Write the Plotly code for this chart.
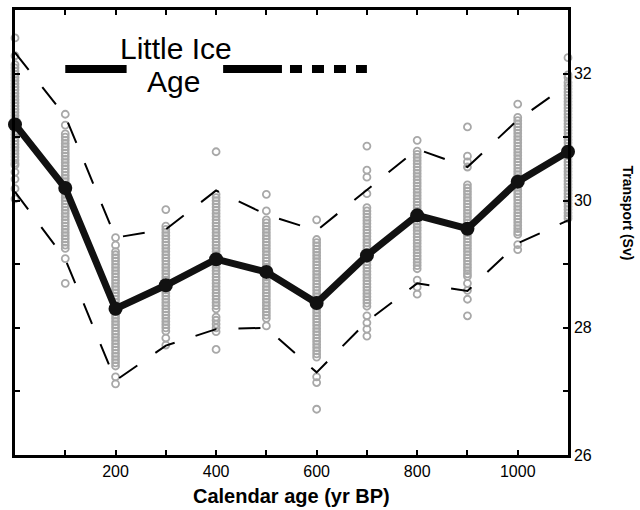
import plotly.graph_objects as go

ages = [0, 100, 200, 300, 400, 500, 600, 700, 800, 900, 1000, 1100]

col_000 = [32.56, 32.28, 32.14, 32.09, 32.04, 31.99, 31.94, 31.89, 31.84, 31.79, 31.74, 31.69, 31.64, 31.59,
           31.54, 31.49, 31.44, 31.39, 31.34, 31.29, 31.24, 31.19, 31.14, 31.09, 31.04, 30.99, 30.94, 30.89,
           30.84, 30.79, 30.74, 30.69, 30.64, 30.59, 30.56, 30.45, 30.34, 30.19, 30.03]
col_100 = [31.36, 31.19, 31.05, 31.0, 30.95, 30.9, 30.85, 30.8, 30.75, 30.7, 30.65, 30.6, 30.55, 30.5,
           30.45, 30.4, 30.35, 30.3, 30.25, 30.2, 30.15, 30.1, 30.05, 30.0, 29.95, 29.9, 29.85, 29.8,
           29.75, 29.7, 29.65, 29.6, 29.55, 29.5, 29.45, 29.4, 29.35, 29.3, 29.25, 29.09, 28.70]
col_200 = [29.42, 29.30, 29.2, 29.15, 29.1, 29.05, 29.0, 28.95, 28.9, 28.85, 28.8, 28.75, 28.7, 28.65,
           28.6, 28.55, 28.5, 28.45, 28.4, 28.35, 28.3, 28.25, 28.2, 28.15, 28.1, 28.05, 28.0, 27.95,
           27.9, 27.85, 27.8, 27.75, 27.7, 27.65, 27.6, 27.55, 27.5, 27.45, 27.4, 27.23, 27.12]
col_300 = [29.86, 29.6, 29.55, 29.5, 29.45, 29.4, 29.35, 29.3, 29.25, 29.2, 29.15, 29.1, 29.05, 29.0,
           28.95, 28.9, 28.85, 28.8, 28.75, 28.7, 28.65, 28.6, 28.55, 28.5, 28.45, 28.4, 28.35, 28.3,
           28.25, 28.2, 28.15, 28.1, 28.05, 28.0, 27.95, 27.84, 27.73]
col_400 = [30.77, 30.1, 30.05, 30.0, 29.95, 29.9, 29.85, 29.8, 29.75, 29.7, 29.65, 29.6, 29.55, 29.5,
           29.45, 29.4, 29.35, 29.3, 29.25, 29.2, 29.15, 29.1, 29.05, 29.0, 28.95, 28.9, 28.85, 28.8,
           28.75, 28.7, 28.65, 28.6, 28.55, 28.5, 28.45, 28.4, 28.35, 28.3, 28.17, 28.12, 28.06, 28.0,
           27.94, 27.66]
col_500 = [30.1, 29.84, 29.7, 29.65, 29.6, 29.55, 29.5, 29.45, 29.4, 29.35, 29.3, 29.25, 29.2, 29.15,
           29.1, 29.05, 29.0, 28.95, 28.9, 28.85, 28.8, 28.75, 28.7, 28.65, 28.6, 28.55, 28.5, 28.45,
           28.4, 28.35, 28.3, 28.25, 28.2, 28.15, 28.03]
col_600 = [29.7, 29.39, 29.34, 29.29, 29.24, 29.19, 29.14, 29.09, 29.04, 28.99, 28.94, 28.89, 28.84, 28.79,
           28.74, 28.69, 28.64, 28.59, 28.54, 28.49, 28.44, 28.39, 28.34, 28.29, 28.24, 28.19, 28.14, 28.09,
           28.04, 27.99, 27.94, 27.89, 27.84, 27.79, 27.74, 27.69, 27.64, 27.59, 27.54, 27.23, 27.14, 26.72]
col_700 = [30.86, 30.48, 30.37, 30.11, 29.89, 29.84, 29.79, 29.74, 29.69, 29.64, 29.59, 29.54, 29.49, 29.44,
           29.39, 29.34, 29.29, 29.24, 29.19, 29.14, 29.09, 29.04, 28.99, 28.94, 28.89, 28.84, 28.79, 28.74,
           28.69, 28.64, 28.59, 28.54, 28.49, 28.44, 28.39, 28.34, 28.19, 28.08, 27.98, 27.87]
col_800 = [30.95, 30.78, 30.73, 30.68, 30.63, 30.58, 30.53, 30.48, 30.43, 30.38, 30.33, 30.28, 30.23, 30.18,
           30.13, 30.08, 30.03, 29.98, 29.93, 29.88, 29.83, 29.78, 29.73, 29.68, 29.63, 29.58, 29.53, 29.48,
           29.43, 29.38, 29.33, 29.28, 29.23, 29.18, 29.13, 29.08, 29.03, 28.98, 28.93, 28.75, 28.64, 28.53]
col_900 = [31.16, 30.70, 30.61, 30.53, 30.25, 30.2, 30.15, 30.1, 30.05, 30.0, 29.95, 29.9, 29.85, 29.8,
           29.75, 29.7, 29.65, 29.6, 29.55, 29.5, 29.45, 29.4, 29.35, 29.3, 29.25, 29.2, 29.15, 29.1,
           29.05, 29.0, 28.95, 28.9, 28.85, 28.81, 28.7, 28.59, 28.45, 28.19]
col_1000 = [31.52, 31.31, 31.26, 31.21, 31.16, 31.11, 31.06, 31.01, 30.96, 30.91, 30.86, 30.81, 30.76, 30.71,
            30.66, 30.61, 30.56, 30.51, 30.46, 30.41, 30.36, 30.31, 30.26, 30.21, 30.16, 30.11, 30.06, 30.01,
            29.96, 29.91, 29.86, 29.81, 29.76, 29.71, 29.66, 29.61, 29.56, 29.51, 29.47, 29.31, 29.23]
col_1100 = [32.25, 31.98, 31.94, 31.86, 31.81, 31.76, 31.71, 31.66, 31.61, 31.56, 31.51, 31.46, 31.41, 31.36,
            31.31, 31.26, 31.21, 31.16, 31.11, 31.06, 31.01, 30.96, 30.91, 30.86, 30.81, 30.76, 30.71, 30.66,
            30.61, 30.56, 30.51, 30.46, 30.41, 30.36, 30.31, 30.26, 30.21, 30.16, 30.11, 30.06, 30.01, 29.96,
            29.91, 29.86, 29.81, 29.76, 29.72]

ensemble = [col_000, col_100, col_200, col_300, col_400, col_500,
            col_600, col_700, col_800, col_900, col_1000, col_1100]

mean_transport = [31.2, 30.2, 28.3, 28.67, 29.08, 28.88, 28.39, 29.14, 29.77, 29.56, 30.3, 30.77]
upper_bound = [32.33, 31.33, 29.42, 29.55, 30.16, 29.78, 29.53, 30.17, 30.81, 30.53, 31.27, 31.83]
lower_bound = [30.14, 29.08, 27.17, 27.72, 27.98, 28.0, 27.3, 28.1, 28.7, 28.58, 29.33, 29.69]

x_tick_vals = [100, 200, 300, 400, 500, 600, 700, 800, 900, 1000]
x_tick_text = ["", "200", "", "400", "", "600", "", "800", "", "1000"]
y_tick_vals = [26, 27, 28, 29, 30, 31, 32]
y_tick_text = ["26", "", "28", "", "30", "", "32"]

FONT = "Liberation Sans, Arial, sans-serif"

fig = go.Figure()

xs, ys = [], []
for a, col in zip(ages, ensemble):
    xs += [a] * len(col)
    ys += col
fig.add_trace(go.Scatter(
    x=xs, y=ys, mode="markers", cliponaxis=False,
    marker=dict(symbol="circle-open", size=7, color="#a8a8a8", line=dict(width=1.8, color="#a8a8a8")),
    showlegend=False, hoverinfo="skip"))

for band in (upper_bound, lower_bound):
    fig.add_trace(go.Scatter(
        x=ages, y=band, mode="lines", cliponaxis=False,
        line=dict(color="black", width=2, dash="22px,22px"),
        showlegend=False, hoverinfo="skip"))

fig.add_trace(go.Scatter(
    x=ages, y=mean_transport, mode="lines+markers", cliponaxis=False,
    line=dict(color="#111111", width=7),
    marker=dict(size=14, color="#111111"),
    showlegend=False))

# Little Ice Age bar
lia_y = 32.07
fig.add_shape(type="line", xref="x", yref="y", x0=100, x1=222, y0=lia_y, y1=lia_y,
              line=dict(color="black", width=8))
fig.add_shape(type="line", xref="x", yref="y", x0=414, x1=531, y0=lia_y, y1=lia_y,
              line=dict(color="black", width=8))
fig.add_shape(type="line", xref="x", yref="y", x0=547, x1=700, y0=lia_y, y1=lia_y,
              line=dict(color="black", width=8, dash="12px,10px"))

fig.add_annotation(x=320, y=32.40, xref="x", yref="y", text="Little Ice", showarrow=False,
                   font=dict(family=FONT, size=30, color="black"), xanchor="center", yanchor="middle")
fig.add_annotation(x=316, y=31.87, xref="x", yref="y", text="Age", showarrow=False,
                   font=dict(family=FONT, size=30, color="black"), xanchor="center", yanchor="middle")

fig.add_annotation(x=0.5, y=-0.092, xref="paper", yref="paper", text="<b>Calendar age (yr BP)</b>",
                   showarrow=False, font=dict(family=FONT, size=20, color="black"),
                   xanchor="center", yanchor="middle")
fig.add_annotation(x=1.1085, y=0.545, xref="paper", yref="paper", text="<b>Transport (Sv)</b>",
                   showarrow=False, textangle=90, font=dict(family=FONT, size=14, color="black"),
                   xanchor="center", yanchor="middle")

fig.update_layout(
    width=640, height=510,
    margin=dict(l=15, r=72, t=7, b=55),
    paper_bgcolor="white", plot_bgcolor="white",
    font=dict(family=FONT, size=16, color="black"),
    xaxis=dict(range=[0, 1100], showgrid=False, zeroline=False,
               showline=True, linecolor="black", linewidth=2.5, mirror="ticks",
               ticks="inside", ticklen=5, tickwidth=2, tickcolor="black",
               tickvals=x_tick_vals, ticktext=x_tick_text,
               tickfont=dict(family=FONT, size=16)),
    yaxis=dict(range=[26, 33], side="right", showgrid=False, zeroline=False,
               showline=True, linecolor="black", linewidth=2.5, mirror="ticks",
               ticks="inside", ticklen=5, tickwidth=2, tickcolor="black",
               tickvals=y_tick_vals, ticktext=y_tick_text,
               tickfont=dict(family=FONT, size=16)),
)

fig.write_html("out.html")
